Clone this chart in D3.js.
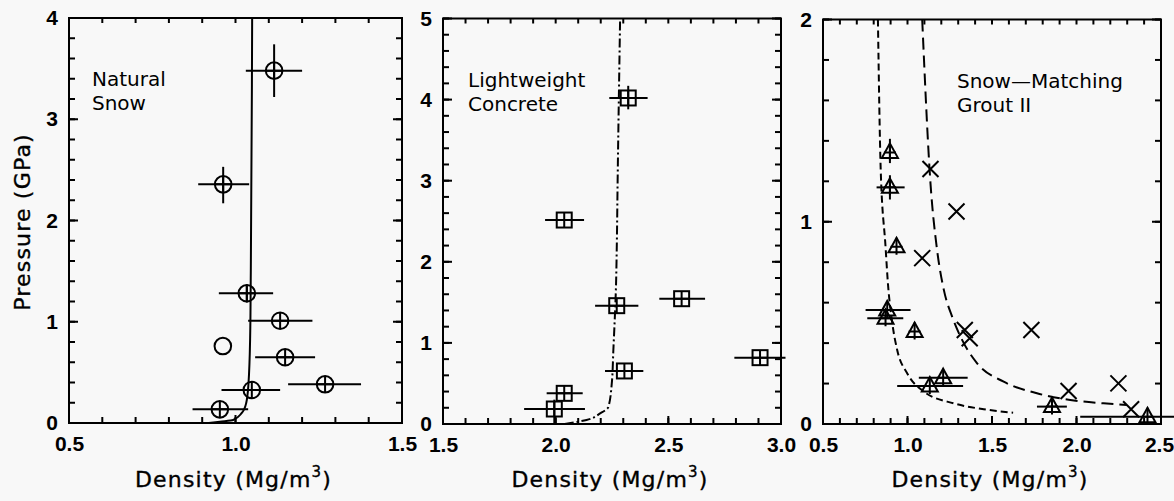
<!DOCTYPE html>
<html>
<head>
<meta charset="utf-8">
<script src="https://cdn.jsdelivr.net/npm/d3@7"></script>
<style>
  html, body { margin: 0; padding: 0; background: #f8f8f8; }
  svg { display: block; }
</style>
</head>
<body>
<svg id="chart" width="1174" height="501"></svg>
<script>
// ---- Natural snow: [density, pressure, densityLow, densityHigh, pressureLow, pressureHigh]
const snowPoints = [
  [1.116, 3.48, 1.031, 1.200, 3.22, 3.74],
  [0.963, 2.357, 0.888, 1.041, 2.17, 2.53],
  [1.034, 1.281, 0.950, 1.113, 1.19, 1.37],
  [1.134, 1.010, 1.038, 1.231, null, null],
  [1.149, 0.649, 1.059, 1.239, null, null],
  [1.269, 0.382, 1.158, 1.377, null, null],
  [1.049, 0.326, 0.958, 1.134, null, null],
  [0.953, 0.135, 0.871, 1.038, null, null]
];
// open symbol without error bars: [density, pressure]
const snowOpen = [[0.962, 0.76]];
// fitted curve, [density, pressure]
const snowCurve = [
  [0.920, 0.000], [0.953, 0.013], [0.993, 0.030], [1.018, 0.096], [1.032, 0.195],
  [1.039, 0.390], [1.044, 0.850], [1.046, 1.510], [1.050, 4.000]
];

// ---- Lightweight concrete
const concretePoints = [
  [2.322, 4.020, 2.238, 2.408, 3.88, 4.17],
  [2.038, 2.515, 1.953, 2.126, null, null],
  [2.271, 1.459, 2.175, 2.367, null, null],
  [2.559, 1.545, 2.460, 2.663, null, null],
  [2.907, 0.818, 2.793, 3.020, null, null],
  [2.305, 0.654, 2.219, 2.389, null, null],
  [2.038, 0.378, 1.960, 2.120, null, null],
  [1.994, 0.185, 1.860, 2.130, 0.00, 0.30]
];
const concreteCurve = [
  [2.040, 0.000], [2.137, 0.050], [2.197, 0.130], [2.234, 0.210], [2.249, 0.500],
  [2.256, 0.910], [2.268, 1.730], [2.271, 2.150], [2.275, 3.000], [2.286, 5.000]
];

// ---- Snow-matching grout II
const groutTriangles = [
  [0.896, 1.343, null, null, 1.29, 1.41],
  [0.896, 1.170, 0.817, 0.983, 1.11, 1.23],
  [0.935, 0.876, null, null, null, null],
  [0.880, 0.564, 0.752, 1.018, null, null],
  [0.870, 0.523, 0.762, 0.975, null, null],
  [1.042, 0.457, null, null, null, null],
  [1.211, 0.229, 1.067, 1.356, null, null],
  [1.132, 0.188, 0.939, 1.329, null, null],
  [1.855, 0.086, 1.766, 1.943, null, null],
  [2.420, 0.036, 2.022, 2.600, null, null]
];
const groutCrosses = [
  [1.136, 1.261], [1.290, 1.051], [1.087, 0.820], [1.339, 0.465], [1.368, 0.424],
  [1.733, 0.465], [1.953, 0.163], [2.248, 0.201], [2.323, 0.073]
];
const groutCurveShort = [
  [0.825, 2.000], [0.841, 1.270], [0.870, 0.878], [0.884, 0.697], [0.910, 0.499],
  [0.939, 0.366], [0.998, 0.251], [1.097, 0.160], [1.274, 0.102], [1.451, 0.073],
  [1.625, 0.056]
];
const groutCurveLong = [
  [1.087, 2.000], [1.136, 1.190], [1.175, 0.861], [1.215, 0.663], [1.264, 0.531],
  [1.323, 0.416], [1.412, 0.300], [1.569, 0.209], [1.766, 0.152], [1.963, 0.119],
  [2.160, 0.102], [2.298, 0.094]
];

// ---- tick labels
const snowXTicks = [0.5, 1.0, 1.5];
const snowYTicks = [0, 1, 2, 3, 4];
const concreteXTicks = [1.5, 2.0, 2.5, 3.0];
const concreteYTicks = [0, 1, 2, 3, 4, 5];
const groutXTicks = [0.5, 1.0, 1.5, 2.0, 2.5];
const groutYTicks = [0, 1, 2];

const panelLabels = [["Natural", "Snow"], ["Lightweight", "Concrete"], ["Snow\u2014Matching", "Grout II"]];

const svg = d3.select("#chart");
svg.append("rect").attr("width", 1174).attr("height", 501).attr("fill", "#f8f8f8");

const INK = "#000";
const TEXT_FONT = "'DejaVu Sans', sans-serif";

function range(a, b, step) {
  const out = [];
  const n = Math.round((b - a) / step);
  for (let i = 0; i <= n; i++) out.push(+(a + i * step).toFixed(4));
  return out;
}

// inward tick marks along one side of the frame, positioned by the scale
function drawTicks(g, scale, values, side, pos, len) {
  const sel = g.append("g").attr("stroke", INK).attr("stroke-width", 2)
    .selectAll("line").data(values).join("line");
  if (side === "bottom" || side === "top") {
    const dir = side === "bottom" ? -1 : 1;
    sel.attr("x1", d => scale(d)).attr("x2", d => scale(d))
       .attr("y1", pos).attr("y2", pos + dir * len);
  } else {
    const dir = side === "left" ? 1 : -1;
    sel.attr("y1", d => scale(d)).attr("y2", d => scale(d))
       .attr("x1", pos).attr("x2", pos + dir * len);
  }
}

function makePanel(opt) {
  const x = d3.scaleLinear().domain(opt.xDomain).range([opt.left, opt.right]);
  const y = d3.scaleLinear().domain(opt.yDomain).range([opt.bottom, opt.top]);
  const g = svg.append("g");

  const xMinor = range(opt.xDomain[0], opt.xDomain[1], 0.1);
  const yMinor = range(opt.yDomain[0], opt.yDomain[1], 0.2);

  // frame
  g.append("rect")
    .attr("x", opt.left).attr("y", opt.top)
    .attr("width", opt.right - opt.left).attr("height", opt.bottom - opt.top)
    .attr("fill", "none").attr("stroke", INK).attr("stroke-width", 2);

  // inward ticks on all four sides
  drawTicks(g, x, xMinor, "bottom", opt.bottom, 6);
  drawTicks(g, x, xMinor, "top", opt.top, 5);
  drawTicks(g, y, yMinor, "left", opt.left, 6);
  drawTicks(g, y, yMinor, "right", opt.right, 6);
  drawTicks(g, x, opt.xTicks, "bottom", opt.bottom, 8);
  drawTicks(g, y, opt.yTicks, "left", opt.left, 9);
  drawTicks(g, y, opt.yTicks, "right", opt.right, 9);

  // tick labels
  const xAxis = g.append("g").attr("transform", `translate(0,${opt.bottom})`)
    .call(d3.axisBottom(x).tickValues(opt.xTicks).tickSize(0).tickPadding(13).tickFormat(d3.format(".1f")));
  const yAxis = g.append("g").attr("transform", `translate(${opt.left},0)`)
    .call(d3.axisLeft(y).tickValues(opt.yTicks).tickSize(0).tickPadding(11).tickFormat(d3.format("d")));
  [xAxis, yAxis].forEach(a => {
    a.select(".domain").remove();
    a.selectAll("text")
      .attr("fill", INK)
      .style("font-family", "'Liberation Sans', Arial, sans-serif")
      .style("font-weight", "bold")
      .style("font-size", "21px");
  });
  if (opt.lastLabelShift) {
    xAxis.selectAll(".tick").filter((d, i, n) => i === n.length - 1)
      .select("text").attr("dx", opt.lastLabelShift);
  }

  // panel label
  const lab = g.append("text")
    .attr("x", opt.labelX).attr("y", opt.labelY)
    .attr("fill", INK)
    .style("font-family", TEXT_FONT)
    .style("font-size", "20px");
  opt.label.forEach((t, i) => lab.append("tspan").attr("x", opt.labelX).attr("dy", i ? 24 : 0).text(t));

  // x title
  const xt = g.append("text")
    .attr("x", (opt.left + opt.right) / 2 - 2).attr("y", 487)
    .attr("text-anchor", "middle").attr("fill", INK)
    .attr("stroke", INK).attr("stroke-width", 0.35)
    .style("font-family", TEXT_FONT)
    .style("font-size", "22px")
    .style("letter-spacing", "1.2px");
  xt.append("tspan").text("Density (Mg/m");
  xt.append("tspan").attr("dy", -10).style("font-size", "15px").text("3");
  xt.append("tspan").attr("dy", 10).text(")");

  return { g, x, y };
}

function drawCurve(p, data, curve, dash) {
  const line = d3.line().x(d => p.x(d[0])).y(d => p.y(d[1])).curve(curve);
  p.g.append("path").datum(data)
    .attr("d", line).attr("fill", "none")
    .attr("stroke", INK).attr("stroke-width", 2)
    .attr("stroke-dasharray", dash || null);
}

function drawErrorBars(p, data) {
  const eg = p.g.append("g").attr("stroke", INK).attr("stroke-width", 2);
  data.forEach(d => {
    if (d[2] != null) eg.append("line")
      .attr("x1", p.x(d[2])).attr("x2", p.x(d[3]))
      .attr("y1", p.y(d[1])).attr("y2", p.y(d[1]));
    if (d[4] != null) eg.append("line")
      .attr("x1", p.x(d[0])).attr("x2", p.x(d[0]))
      .attr("y1", p.y(d[4])).attr("y2", p.y(d[5]));
  });
}

// plot symbols, optionally with a small cross inside
function drawSymbols(p, data, kind, withCross) {
  const sg = p.g.append("g").attr("stroke", INK).attr("stroke-width", 2).attr("fill", "none");
  data.forEach(d => {
    const cx = p.x(d[0]), cy = p.y(d[1]);
    const s = sg.append("g").attr("transform", `translate(${cx},${cy})`);
    if (kind === "circle") {
      s.append("circle").attr("r", 8.3);
      if (withCross) s.append("path").attr("d", "M-8,0H8M0,-8V8");
    } else if (kind === "square") {
      s.append("rect").attr("x", -7.5).attr("y", -7.5).attr("width", 15).attr("height", 15);
      if (withCross) s.append("path").attr("d", "M-7.5,0H7.5M0,-7.5V7.5");
    } else if (kind === "triangle") {
      s.append("path").attr("d", "M0,-9L8,5.5L-8,5.5Z");
      if (withCross) s.append("path").attr("d", "M-6,0H6M0,-9V8");
    } else if (kind === "x") {
      s.append("path").attr("d", "M-8,-8L8,8M-8,8L8,-8");
    }
  });
}

// ---- panel 1: natural snow
const p1 = makePanel({
  left: 69, right: 402, top: 18, bottom: 423,
  xDomain: [0.5, 1.5], yDomain: [0, 4],
  xTicks: snowXTicks, yTicks: snowYTicks,
  label: panelLabels[0], labelX: 92, labelY: 86
});
drawCurve(p1, snowCurve, d3.curveMonotoneY);
drawErrorBars(p1, snowPoints);
drawSymbols(p1, snowPoints, "circle", true);
drawSymbols(p1, snowOpen, "circle", false);

// ---- panel 2: lightweight concrete
const p2 = makePanel({
  left: 443, right: 781, top: 18.5, bottom: 424,
  xDomain: [1.5, 3.0], yDomain: [0, 5],
  xTicks: concreteXTicks, yTicks: concreteYTicks,
  label: panelLabels[1], labelX: 468, labelY: 87
});
drawCurve(p2, concreteCurve, d3.curveMonotoneY, "9,3,2,3");
drawErrorBars(p2, concretePoints);
drawSymbols(p2, concretePoints, "square", true);

// ---- panel 3: snow-matching grout II
const p3 = makePanel({
  left: 823, right: 1161, top: 19.5, bottom: 424,
  xDomain: [0.5, 2.5], yDomain: [0, 2],
  xTicks: groutXTicks, yTicks: groutYTicks,
  label: panelLabels[2], labelX: 957, labelY: 88,
  lastLabelShift: -2
});
drawCurve(p3, groutCurveShort, d3.curveMonotoneX, "7,4");
drawCurve(p3, groutCurveLong, d3.curveMonotoneX, "12,6");
drawErrorBars(p3, groutTriangles);
drawSymbols(p3, groutTriangles, "triangle", true);
drawSymbols(p3, groutCrosses, "x", false);

// shared y title
svg.append("text")
  .attr("transform", "translate(30,222) rotate(-90)")
  .attr("text-anchor", "middle").attr("fill", INK)
  .attr("stroke", INK).attr("stroke-width", 0.35)
  .style("font-family", TEXT_FONT)
  .style("font-size", "22px")
  .style("letter-spacing", "1.2px")
  .text("Pressure (GPa)");
</script>
</body>
</html>
